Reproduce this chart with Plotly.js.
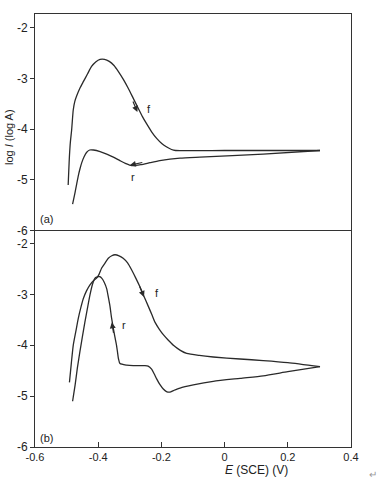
<!DOCTYPE html>
<html>
<head>
<meta charset="utf-8">
<script src="https://cdn.plot.ly/plotly-3.0.1.min.js"></script>
<style>
html,body{margin:0;padding:0;background:#fff;}
#chart{width:385px;height:479px;}
</style>
</head>
<body>
<div id="chart"></div>
<script>
// Panel (a): forward (f) and reverse (r) scans
var aFwdE = [-0.495,-0.493,-0.491,-0.488,-0.484,-0.479,-0.474,-0.468,-0.458,-0.447,-0.434,-0.421,-0.408,-0.394,-0.380,-0.365,-0.350,-0.336,-0.320,-0.305,-0.289,-0.273,-0.260,-0.247,-0.231,-0.215,-0.199,-0.183,-0.168,-0.155,0.000,0.150,0.302];
var aFwdI = [-5.10,-4.80,-4.53,-4.25,-4.01,-3.62,-3.45,-3.34,-3.19,-3.06,-2.91,-2.76,-2.67,-2.62,-2.62,-2.66,-2.74,-2.86,-3.02,-3.19,-3.39,-3.59,-3.75,-3.89,-4.05,-4.18,-4.28,-4.35,-4.40,-4.42,-4.42,-4.42,-4.42];
var aRevE = [0.302,0.122,-0.078,-0.141,-0.173,-0.205,-0.236,-0.265,-0.294,-0.312,-0.331,-0.352,-0.373,-0.394,-0.415,-0.427,-0.437,-0.445,-0.452,-0.458,-0.463,-0.468,-0.473,-0.477,-0.481];
var aRevI = [-4.42,-4.49,-4.55,-4.57,-4.59,-4.62,-4.66,-4.70,-4.72,-4.68,-4.62,-4.55,-4.49,-4.44,-4.41,-4.41,-4.46,-4.55,-4.66,-4.79,-4.92,-5.08,-5.24,-5.36,-5.48];

// Panel (b)
var bFwdE = [-0.491,-0.485,-0.479,-0.470,-0.463,-0.455,-0.447,-0.437,-0.426,-0.415,-0.405,-0.397,-0.389,-0.378,-0.368,-0.357,-0.347,-0.334,-0.321,-0.307,-0.294,-0.281,-0.268,-0.257,-0.241,-0.230,-0.220,-0.207,-0.194,-0.178,-0.162,-0.140,-0.120,-0.080,-0.036,0.049,0.122,0.200,0.302];
var bFwdI = [-4.73,-4.35,-4.00,-3.70,-3.47,-3.26,-3.08,-2.93,-2.81,-2.73,-2.68,-2.60,-2.48,-2.38,-2.29,-2.24,-2.22,-2.24,-2.29,-2.38,-2.52,-2.68,-2.85,-3.01,-3.24,-3.40,-3.55,-3.68,-3.79,-3.90,-4.00,-4.10,-4.16,-4.20,-4.23,-4.27,-4.30,-4.34,-4.42];
var bRevE = [0.302,0.200,0.122,0.049,-0.036,-0.099,-0.141,-0.162,-0.173,-0.184,-0.194,-0.205,-0.215,-0.223,-0.231,-0.242,-0.252,-0.270,-0.289,-0.310,-0.331,-0.336,-0.339,-0.342,-0.347,-0.352,-0.358,-0.363,-0.368,-0.373,-0.381,-0.389,-0.395,-0.400,-0.405,-0.410,-0.418,-0.426,-0.434,-0.442,-0.450,-0.458,-0.466,-0.473,-0.481];
var bRevI = [-4.42,-4.52,-4.60,-4.65,-4.71,-4.78,-4.84,-4.89,-4.92,-4.91,-4.86,-4.77,-4.66,-4.56,-4.47,-4.41,-4.40,-4.40,-4.40,-4.39,-4.36,-4.26,-4.13,-4.00,-3.84,-3.67,-3.45,-3.22,-3.05,-2.89,-2.76,-2.68,-2.65,-2.65,-2.66,-2.68,-2.80,-3.01,-3.27,-3.54,-3.83,-4.13,-4.45,-4.78,-5.10];

// Tick labels
var yTickVals = [-6,-5,-4,-3,-2];
var yTickText = ['-6','-5','-4','-3','-2'];
var xTickVals = [-0.6,-0.4,-0.2,0,0.2,0.4];
var xTickText = ['-0.6','-0.4','-0.2','0','0.2','0.4'];

var lineStyle = {color:'#2a2a2a', width:1.3, shape:'spline', smoothing:0.6};
var traces = [
  {x:aFwdE, y:aFwdI, xaxis:'x', yaxis:'y', mode:'lines', line:lineStyle, hoverinfo:'skip'},
  {x:aRevE, y:aRevI, xaxis:'x', yaxis:'y', mode:'lines', line:lineStyle, hoverinfo:'skip'},
  {x:bFwdE, y:bFwdI, xaxis:'x2', yaxis:'y2', mode:'lines', line:lineStyle, hoverinfo:'skip'},
  {x:bRevE, y:bRevI, xaxis:'x2', yaxis:'y2', mode:'lines', line:lineStyle, hoverinfo:'skip'}
];

var font = {family:'Liberation Sans, Arial, sans-serif', size:12, color:'#222'};
var axCommon = {showline:true, mirror:true, linecolor:'#333', linewidth:1, showgrid:false, zeroline:false, fixedrange:true};

function arrow(x, y, xref, yref, ax, ay){
  return {x:x, y:y, xref:xref, yref:yref, text:'', showarrow:true, arrowhead:2, arrowsize:1, arrowwidth:1.2, arrowcolor:'#2a2a2a', ax:ax, ay:ay, standoff:0};
}
function label(t, x, y, xref, yref, size){
  return {x:x, y:y, xref:xref, yref:yref, text:t, showarrow:false, font:{family:font.family, size:size||11, color:'#222'}, xanchor:'center', yanchor:'middle'};
}

var layout = {
  width:385, height:479,
  margin:{l:35, r:34, t:14, b:32},
  paper_bgcolor:'#fff', plot_bgcolor:'#fff',
  showlegend:false,
  font:font,
  xaxis: Object.assign({}, axCommon, {domain:[0,1], anchor:'y', side:'top', mirror:false, range:[-0.6,0.4], showticklabels:false, ticks:''}),
  yaxis: Object.assign({}, axCommon, {domain:[0.5,1], anchor:'x', range:[-6,-1.724], tickvals:yTickVals, ticktext:yTickText, ticks:'outside', ticklen:4, tickcolor:'#333'}),
  xaxis2: Object.assign({}, axCommon, {domain:[0,1], anchor:'y2', range:[-0.6,0.4], tickvals:xTickVals, ticktext:xTickText, ticks:'inside', ticklen:5, tickcolor:'#333', tickfont:{family:font.family, size:11, color:'#222'}}),
  yaxis2: Object.assign({}, axCommon, {domain:[0,0.5], anchor:'x2', range:[-6,-1.743], tickvals:yTickVals, ticktext:yTickText, ticks:'outside', ticklen:4, tickcolor:'#333'}),
  annotations: [
    arrow(-0.276, -3.66, 'x', 'y', -5, -12),
    arrow(-0.300, -4.71, 'x', 'y', 14, -3),
    arrow(-0.255, -3.05, 'x2', 'y2', -5, -12),
    arrow(-0.357, -3.55, 'x2', 'y2', 2, 12),
    label('f', -0.239, -3.60, 'x', 'y'),
    label('r', -0.290, -4.94, 'x', 'y'),
    label('f', -0.215, -2.98, 'x2', 'y2'),
    label('r', -0.318, -3.60, 'x2', 'y2'),
    label('(a)', -0.563, -5.77, 'x', 'y', 11),
    label('(b)', -0.563, -5.83, 'x2', 'y2', 11),
    {x:0.1, y:-0.052, xref:'x2', yref:'paper', text:'<i>E</i> (SCE) (V)', showarrow:false, font:{family:font.family, size:12, color:'#222'}, xanchor:'center', yanchor:'middle'},
    {x:-0.082, y:0.716, xref:'paper', yref:'paper', text:'log <i>I</i> (log A)', textangle:-90, showarrow:false, font:{family:font.family, size:11, color:'#222'}, xanchor:'center', yanchor:'middle'},
    {x:1.07, y:-0.064, xref:'paper', yref:'paper', text:'↵', showarrow:false, font:{family:font.family, size:10, color:'#999'}, xanchor:'center', yanchor:'middle'}
  ]
};

Plotly.newPlot('chart', traces, layout, {displayModeBar:false, staticPlot:true});
</script>
</body>
</html>
